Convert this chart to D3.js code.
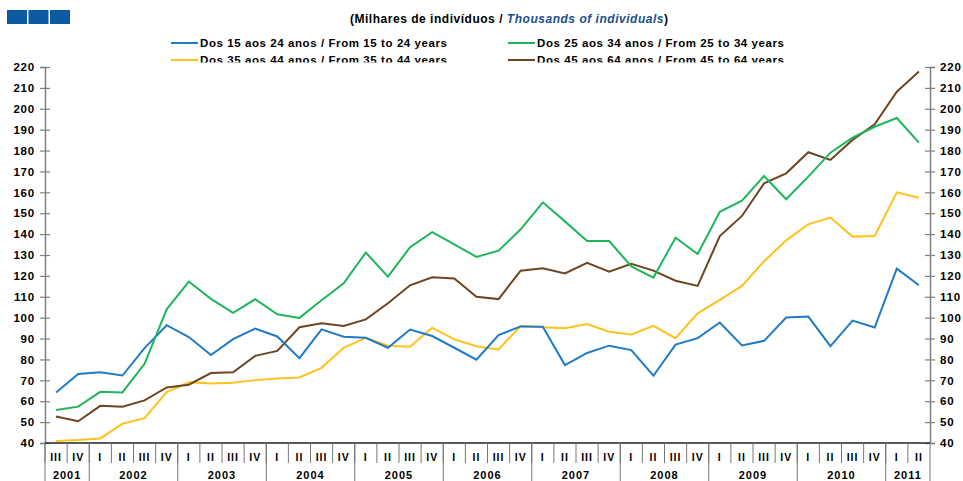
<!DOCTYPE html>
<html><head><meta charset="utf-8">
<script src="https://cdn.jsdelivr.net/npm/d3@7"></script>
<style>body{margin:0;background:#fff}svg{display:block;font-family:"Liberation Sans",Arial,sans-serif;font-weight:bold}</style>
</head><body>
<svg id="c" width="963" height="481"></svg>
<script>
const years = ["2001","2002","2003","2004","2005","2006","2007","2008","2009","2010","2011"];
const quartersPerYear = [["III","IV"],["I","II","III","IV"],["I","II","III","IV"],["I","II","III","IV"],["I","II","III","IV"],["I","II","III","IV"],["I","II","III","IV"],["I","II","III","IV"],["I","II","III","IV"],["I","II","III","IV"],["I","II"]];
const yTicks = [40,50,60,70,80,90,100,110,120,130,140,150,160,170,180,190,200,210,220];
const seriesNames = ["Dos 15 aos 24 anos / From 15 to 24 years","Dos 25 aos 34 anos / From 25 to 34 years","Dos 35 aos 44 anos / From 35 to 44 years","Dos 45 aos 64 anos / From 45 to 64 years"];
const seriesColors = ["#1f7bc6","#1fb55a","#ffc21a","#6e4521"];
const age15_24 = [64.2,73.0,73.9,72.3,85.4,96.4,90.7,82.1,89.7,94.8,91.0,80.6,94.4,90.9,90.4,85.6,94.3,91.2,85.6,79.9,91.7,95.8,95.7,77.3,83.1,86.6,84.5,72.2,87.1,90.2,97.7,86.7,88.9,100.1,100.5,86.4,98.6,95.3,123.5,115.5];
const age25_34 = [55.8,57.4,64.5,64.2,77.9,104.0,117.3,109.0,102.3,108.8,101.6,99.9,108.3,116.4,131.2,119.6,133.7,140.9,135.1,129.1,132.1,142.3,155.2,146.1,136.7,136.7,124.5,119.2,138.3,130.5,150.7,156.0,167.8,156.7,167.5,179.0,186.2,191.4,195.6,183.8];
const age35_44 = [41.0,41.4,42.2,49.2,51.9,64.4,69.1,68.5,68.8,70.1,70.9,71.4,76.0,85.6,90.4,86.6,86.1,95.2,89.6,86.3,84.8,96.0,95.4,94.9,97.0,93.3,92.0,96.1,90.2,102.1,108.5,115.2,127.0,137.0,144.7,147.9,138.8,139.1,160.0,157.4];
const age45_64 = [52.7,50.4,57.8,57.4,60.4,66.6,67.9,73.5,73.9,81.7,84.1,95.4,97.3,96.0,99.2,106.9,115.5,119.3,118.8,110.0,108.9,122.5,123.6,121.2,126.3,122.0,125.8,122.5,117.7,115.2,139.1,148.7,164.3,169.1,179.2,175.5,185.1,192.6,208.2,217.8];

const svg = d3.select("#c");
const L = 45, R = 930, T = 67, B = 443;
const quarters = [];
years.forEach((y,i)=>quartersPerYear[i].forEach(q=>quarters.push({y,q,key:y+"-"+q})));
const x = d3.scaleBand().domain(quarters.map(d=>d.key)).range([L,R]).padding(0);
const y = d3.scaleLinear().domain([40,220]).range([B,T]);

// header squares
svg.append("g").selectAll("rect").data([0,1,2]).join("rect")
  .attr("x",d=>7+d*21.5).attr("y",10).attr("width",20).attr("height",14).attr("fill","#0b5aa2");

// subtitle
const st = svg.append("text").attr("x",350).attr("y",22.5).attr("font-size",12)
  .attr("textLength",318).attr("lengthAdjust","spacing").attr("fill","#000");
st.append("tspan").text("(Milhares de indivíduos / ");
st.append("tspan").attr("font-style","italic").attr("fill","#1c4f8c").text("Thousands of individuals");
st.append("tspan").text(")");

// legend
const defs = svg.append("defs");
defs.append("clipPath").attr("id","lc").append("rect").attr("x",0).attr("y",0).attr("width",963).attr("height",62.4);
const lg = svg.append("g").attr("clip-path","url(#lc)");
const legPos = [[171,43],[508,43],[171,60],[508,60]];
seriesNames.forEach((n,i)=>{
  const [lx,ly] = legPos[i];
  lg.append("line").attr("x1",lx).attr("x2",lx+27).attr("y1",ly).attr("y2",ly).attr("stroke",seriesColors[i]).attr("stroke-width",2);
  lg.append("text").attr("x",lx+29).attr("y",ly+4.3).attr("font-size",11.5)
    .attr("textLength",247).attr("lengthAdjust","spacing").attr("fill","#000").text(n);
});

// axes
const axL = svg.append("g").attr("transform",`translate(${L},0)`)
  .call(d3.axisLeft(y).tickValues(yTicks).tickSize(5).tickFormat(d3.format("d")));
const axR = svg.append("g").attr("transform",`translate(${R},0)`)
  .call(d3.axisRight(y).tickValues(yTicks).tickSize(5).tickFormat(d3.format("d")));
[axL,axR].forEach(a=>{
  a.select(".domain").attr("stroke","#808080").attr("stroke-width",1.5);
  a.selectAll(".tick line").attr("stroke","#808080").attr("stroke-width",1.2);
  a.selectAll(".tick text").attr("font-size",11.5).attr("letter-spacing",0.8).attr("font-weight","bold").attr("fill","#000").attr("font-family","Liberation Sans, Arial, sans-serif");
});
axL.selectAll(".tick line").attr("x1",5);
axR.selectAll(".tick line").attr("x1",-5);
axL.selectAll(".tick text").attr("x",-10);
axR.selectAll(".tick text").attr("x",10);

// bottom axis
svg.append("line").attr("x1",L).attr("x2",R).attr("y1",B).attr("y2",B).attr("stroke","#222").attr("stroke-width",1.5);
const bw = x.bandwidth();
// quarter separators
svg.append("g").selectAll("line").data(quarters).join("line")
  .attr("x1",d=>x(d.key)).attr("x2",d=>x(d.key)).attr("y1",B).attr("y2",463)
  .attr("stroke","#777").attr("stroke-width",1);
svg.append("g").selectAll("text").data(quarters).join("text")
  .attr("x",d=>x(d.key)+bw/2).attr("y",460.5).attr("text-anchor","middle").attr("font-size",10.5).attr("letter-spacing",1).attr("fill","#000").text(d=>d.q);
// year separators & labels
const yearStarts = years.map(yy=>{
  const qs = quarters.filter(d=>d.y===yy);
  return {y:yy, x0:x(qs[0].key), x1:x(qs[qs.length-1].key)+bw};
});
svg.append("g").selectAll("line").data(yearStarts.map(d=>d.x0).concat([R])).join("line")
  .attr("x1",d=>d).attr("x2",d=>d).attr("y1",B).attr("y2",481).attr("stroke","#777").attr("stroke-width",1);
svg.append("g").selectAll("text").data(yearStarts).join("text")
  .attr("x",d=>(d.x0+d.x1)/2).attr("y",479).attr("text-anchor","middle").attr("font-size",11).attr("letter-spacing",1).attr("fill","#000").text(d=>d.y);

// lines
const allSeries = [age15_24,age25_34,age35_44,age45_64];
const line = d3.line().x((d,i)=>x(quarters[i].key)+bw/2).y(d=>y(d));
const drawOrder = [2,3,0,1];
drawOrder.forEach(k=>{
  svg.append("path").datum(allSeries[k]).attr("d",line).attr("fill","none")
    .attr("stroke",seriesColors[k]).attr("stroke-width",2).attr("stroke-linejoin","miter");
});
</script>
</body></html>
